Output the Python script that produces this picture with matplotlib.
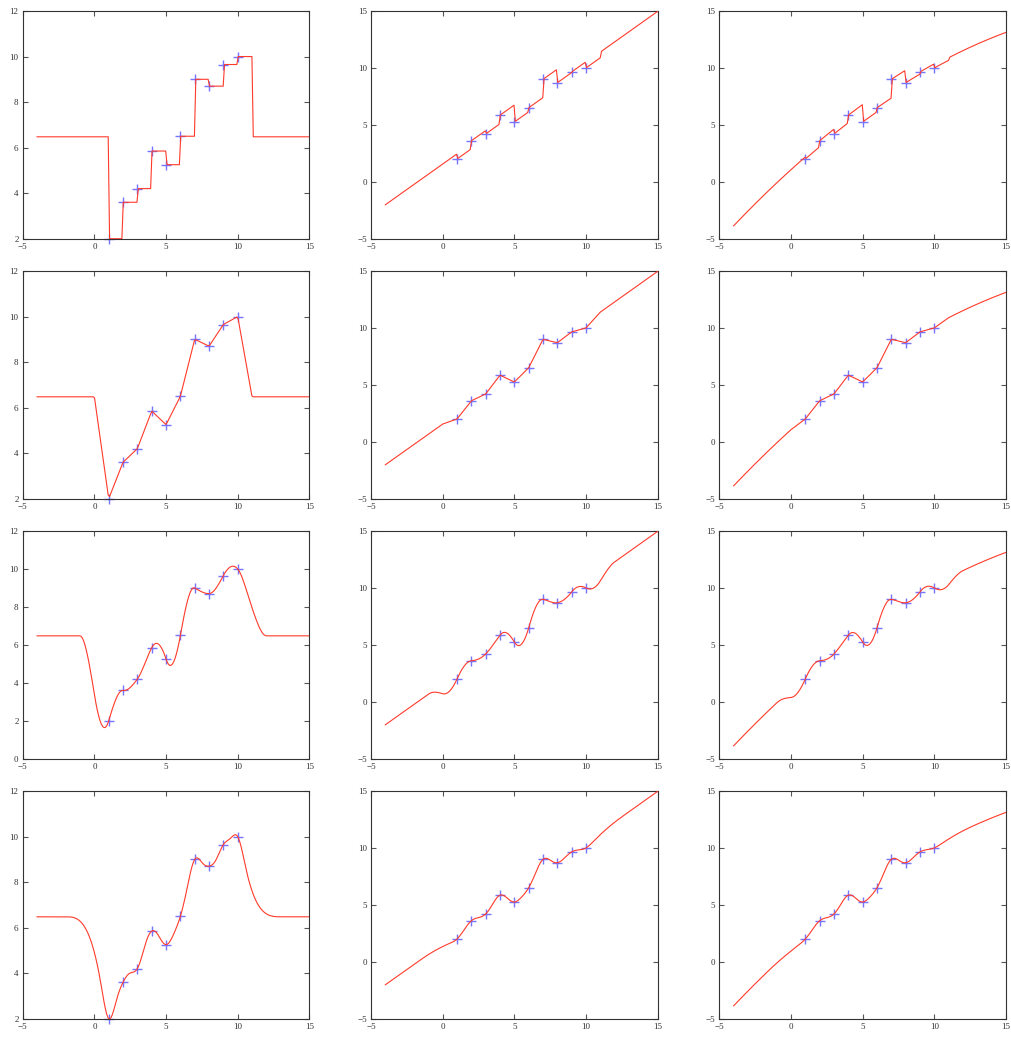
import numpy as np
import matplotlib
matplotlib.use("Agg")
import matplotlib.pyplot as plt

# ---- data ----
x_pts = np.arange(1, 11, dtype=float)
y_pts = np.array([2.0, 3.6, 4.2, 5.85, 5.25, 6.5, 9.0, 8.7, 9.65, 10.0])
trend_degrees = [0, 1, 2]            # columns: constant, linear, quadratic trend
x_range = (-4, 15)
yticks_col1 = [2, 4, 6, 8, 10, 12]
yticks_col1_row3 = [0, 2, 4, 6, 8, 10, 12]
yticks_other = [-5, 0, 5, 10, 15]
xticks = [-5, 0, 5, 10, 15]


# ---- correlation kernels, one per row ----
def k_box(d):
    return ((d >= 0) & (d < 1)).astype(float)

def k_lin(d):
    return np.maximum(0.0, 1 - np.abs(d))

def k_cubic(d, rho=2.0):
    xi = np.minimum(1, np.abs(d) / rho)
    return 1 - 3 * xi**2 + 2 * xi**3

def k_spline(d, rho=3.0):
    xi = np.minimum(1, np.abs(d) / rho)
    return np.where(xi <= 0.2, 1 - 15 * xi**2 + 30 * xi**3, 1.25 * (1 - xi)**3)

kernels = [k_box, k_lin, k_cubic, k_spline]


def fit_curve(xs, kern, deg):
    coef = np.polyfit(x_pts, y_pts, deg)
    res = y_pts - np.polyval(coef, x_pts)
    K = kern(x_pts[:, None] - x_pts[None, :])
    w = np.linalg.solve(K, res)
    return np.polyval(coef, xs) + kern(xs[:, None] - x_pts[None, :]) @ w


W, H = 1011, 1039
plt.rcParams['font.family'] = ['Liberation Serif', 'DejaVu Serif']
fig = plt.figure(figsize=(W / 100, H / 100), dpi=100)

lefts = [22.7, 371.0, 719.3]
ax_w = 286.7
tops = [11.0, 271.0, 531.0, 791.0]
ax_h = 227.7

xs = np.linspace(x_range[0], x_range[1], 200)

for i, kern in enumerate(kernels):
    for j, deg in enumerate(trend_degrees):
        ax = fig.add_axes([lefts[j] / W, 1 - (tops[i] + ax_h) / H, ax_w / W, ax_h / H])
        ys = fit_curve(xs, kern, deg)
        ax.plot(x_pts, y_pts, '+', color='#3a3aff', ms=7.5, mew=1.0, alpha=0.7,
                zorder=2, clip_on=False)
        ax.plot(xs, ys, '-', color='#ff3a2a', lw=0.8, zorder=3)
        ax.set_xlim(-5, 15)
        ax.set_xticks(xticks)
        if j == 0:
            if i == 2:
                ax.set_ylim(0, 12)
                ax.set_yticks(yticks_col1_row3)
            else:
                ax.set_ylim(2, 12)
                ax.set_yticks(yticks_col1)
        else:
            ax.set_ylim(-5, 15)
            ax.set_yticks(yticks_other)
        ax.tick_params(direction='in', top=True, right=True, length=3.5, width=0.8,
                       color='#555555', labelsize=6.5, labelcolor='#333333', pad=3)
        for s in ax.spines.values():
            s.set_linewidth(0.8)
            s.set_color('#333333')

fig.savefig("out.png", dpi=100)
